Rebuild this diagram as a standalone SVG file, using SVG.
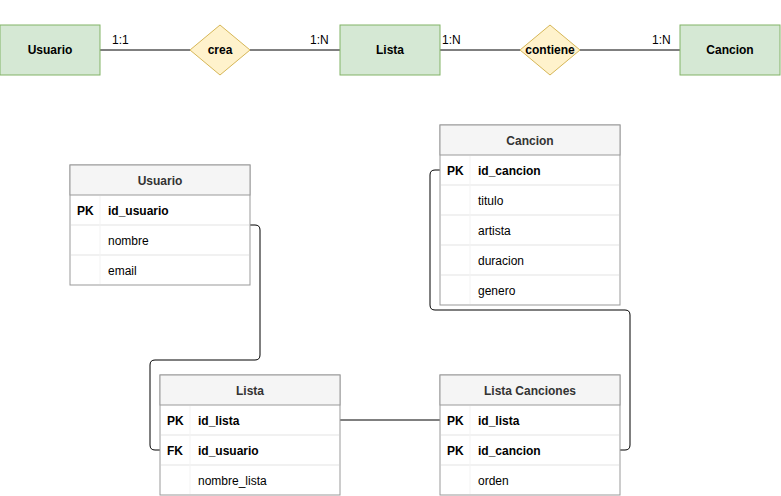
<svg xmlns="http://www.w3.org/2000/svg" width="781" height="496" viewBox="0 0 781 496">
<style>
text{font-family:"Liberation Sans",Arial,sans-serif;font-size:12px;fill:#000}
.b{font-weight:bold}
.ent{fill:#d5e8d4;stroke:#82b366;stroke-width:1}
.rel{fill:#fff2cc;stroke:#d6b656;stroke-width:1}
.hd{fill:#f5f5f5;stroke:#999999;stroke-width:1}
.tb{fill:#ffffff;stroke:#999999;stroke-width:1}
.sep{stroke:#e3e3e3;stroke-width:1;fill:none}
.csep{stroke:#f3f3f3;stroke-width:1;fill:none}
.ht{font-weight:bold;fill:#333333}
.ln{fill:none;stroke:#000;stroke-width:1}
</style>
<rect width="781" height="496" fill="#ffffff"/>
<g id="connectors">
<path class="ln" d="M100,50H190M250,50H340M440,50H520M580,50H680"/>
<path class="ln" d="M250,225H255Q260,225 260,230V355Q260,360 255,360H155Q150,360 150,365V445Q150,450 155,450H160"/>
<path class="ln" d="M340,420H440"/>
<path class="ln" d="M440,170H435Q430,170 430,175V305Q430,310 435,310H625Q630,310 630,315V445Q630,450 625,450H620"/>
<text x="112" y="44">1:1</text>
<text x="310" y="44">1:N</text>
<text x="442" y="44">1:N</text>
<text x="652" y="44">1:N</text>
</g>
<g id="e-usuario"><rect class="ent" x="0" y="25" width="100" height="50"/><text class="b" x="50" y="54" text-anchor="middle">Usuario</text></g>
<g id="r-crea"><path class="rel" d="M220,25L250,50L220,75L190,50Z"/><text class="b" x="220" y="54" text-anchor="middle">crea</text></g>
<g id="e-lista"><rect class="ent" x="340" y="25" width="100" height="50"/><text class="b" x="390" y="54" text-anchor="middle">Lista</text></g>
<g id="r-contiene"><path class="rel" d="M550,25L580,50L550,75L520,50Z"/><text class="b" x="550" y="54" text-anchor="middle">contiene</text></g>
<g id="e-cancion"><rect class="ent" x="680" y="25" width="100" height="50"/><text class="b" x="730" y="54" text-anchor="middle">Cancion</text></g>

<g id="t-usuario">
<rect class="tb" x="70" y="165" width="180" height="120"/>
<rect class="hd" x="70" y="165" width="180" height="30"/>
<path class="sep" d="M71,225H249M71,255H249"/><path class="csep" d="M100,196V284"/>
<text class="ht" x="160" y="185" text-anchor="middle">Usuario</text>
<text class="b" x="77" y="215">PK</text><text class="b" x="108" y="215">id_usuario</text>
<text x="108" y="245">nombre</text>
<text x="108" y="275">email</text>
</g>
<g id="t-cancion">
<rect class="tb" x="440" y="125" width="180" height="180"/>
<rect class="hd" x="440" y="125" width="180" height="30"/>
<path class="sep" d="M441,185H619M441,215H619M441,245H619M441,275H619"/><path class="csep" d="M470,156V304"/>
<text class="ht" x="530" y="145" text-anchor="middle">Cancion</text>
<text class="b" x="447" y="175">PK</text><text class="b" x="478" y="175">id_cancion</text>
<text x="478" y="205">titulo</text>
<text x="478" y="235">artista</text>
<text x="478" y="265">duracion</text>
<text x="478" y="295">genero</text>
</g>
<g id="t-lista">
<rect class="tb" x="160" y="375" width="180" height="120"/>
<rect class="hd" x="160" y="375" width="180" height="30"/>
<path class="sep" d="M161,435H339M161,465H339"/><path class="csep" d="M190,406V494"/>
<text class="ht" x="250" y="395" text-anchor="middle">Lista</text>
<text class="b" x="167" y="425">PK</text><text class="b" x="198" y="425">id_lista</text>
<text class="b" x="167" y="455">FK</text><text class="b" x="198" y="455">id_usuario</text>
<text x="198" y="485">nombre_lista</text>
</g>
<g id="t-listacanciones">
<rect class="tb" x="440" y="375" width="180" height="120"/>
<rect class="hd" x="440" y="375" width="180" height="30"/>
<path class="sep" d="M441,435H619M441,465H619"/><path class="csep" d="M470,406V494"/>
<text class="ht" x="530" y="395" text-anchor="middle">Lista Canciones</text>
<text class="b" x="447" y="425">PK</text><text class="b" x="478" y="425">id_lista</text>
<text class="b" x="447" y="455">PK</text><text class="b" x="478" y="455">id_cancion</text>
<text x="478" y="485">orden</text>
</g>
</svg>
